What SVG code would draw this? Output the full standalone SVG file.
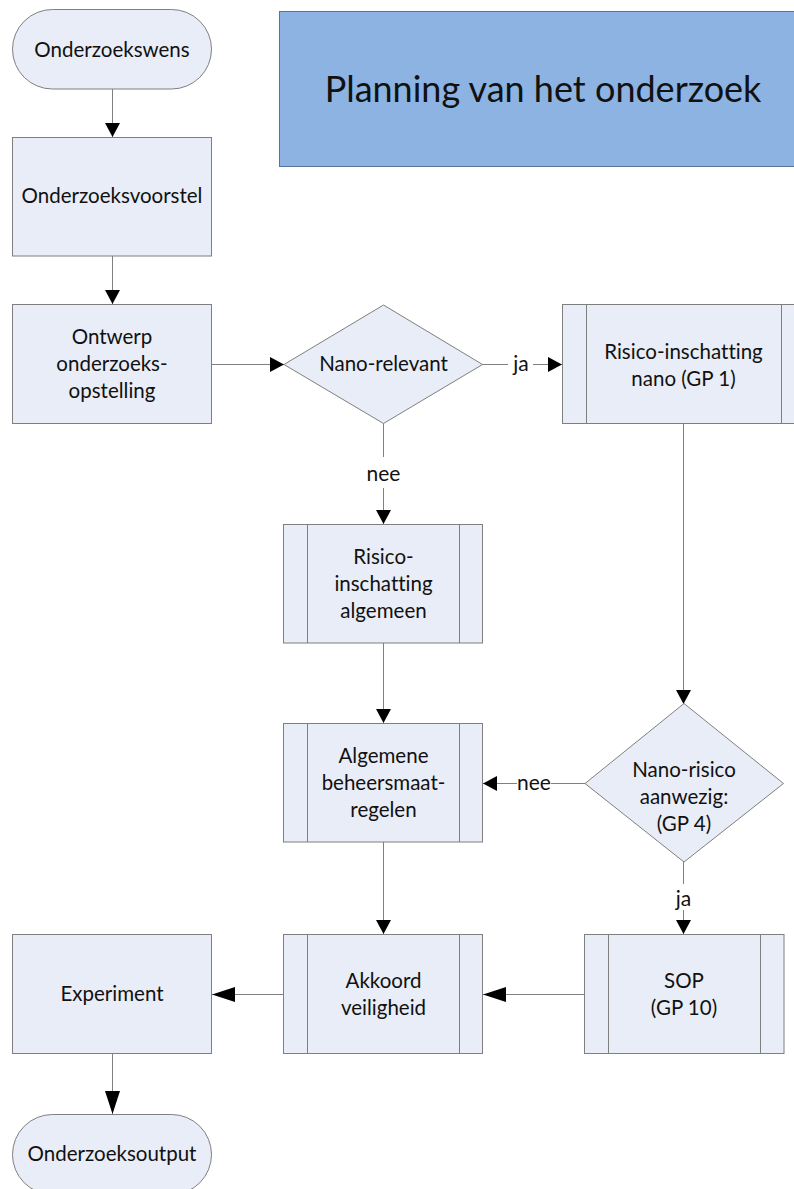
<svg xmlns="http://www.w3.org/2000/svg" width="794" height="1189" viewBox="0 0 794 1189">
  <style>
    .shape { fill: #E9EDF7; stroke: #7F7F7F; stroke-width: 1; }
    .title { fill: #8DB3E2; stroke: #56739C; stroke-width: 1; }
    .bar { stroke: #7F7F7F; stroke-width: 1; fill: none; }
    .conn { stroke: #808080; stroke-width: 1; fill: none; }
    text { font-family: Lato, "Liberation Sans", sans-serif; font-size: 20.5px; fill: #111; text-anchor: middle; font-variant-ligatures: none; }
    .big { font-size: 36px; }
    .lbl { font-size: 21px; }
  </style>
  <defs>
    <marker id="arrow" markerUnits="userSpaceOnUse" viewBox="0 0 14 15" refX="14" refY="7.5" markerWidth="14" markerHeight="15" orient="auto">
      <path d="M0,0 L14,7.5 L0,15 Z" fill="#000"/>
    </marker>
    <marker id="arrowLong" markerUnits="userSpaceOnUse" viewBox="0 0 23 15" refX="23" refY="7.5" markerWidth="23" markerHeight="15" orient="auto">
      <path d="M0,0 L23,7.5 L0,15 Z" fill="#000"/>
    </marker>
  </defs>

  <g id="connectors">
    <line class="conn" x1="112.5" y1="89" x2="112.5" y2="137" marker-end="url(#arrow)"/>
    <line class="conn" x1="112.5" y1="256" x2="112.5" y2="304" marker-end="url(#arrow)"/>
    <line class="conn" x1="211" y1="364.5" x2="284" y2="364.5" marker-end="url(#arrow)"/>
    <line class="conn" x1="482" y1="364.5" x2="508" y2="364.5"/>
    <line class="conn" x1="533" y1="364.5" x2="562" y2="364.5" marker-end="url(#arrow)"/>
    <line class="conn" x1="383.5" y1="423" x2="383.5" y2="457"/>
    <line class="conn" x1="383.5" y1="488" x2="383.5" y2="524" marker-end="url(#arrow)"/>
    <line class="conn" x1="683.5" y1="424" x2="683.5" y2="704" marker-end="url(#arrow)"/>
    <line class="conn" x1="383.5" y1="643" x2="383.5" y2="723" marker-end="url(#arrow)"/>
    <line class="conn" x1="585" y1="783.5" x2="551" y2="783.5"/>
    <line class="conn" x1="517" y1="783.5" x2="483" y2="783.5" marker-end="url(#arrow)"/>
    <line class="conn" x1="683.5" y1="862" x2="683.5" y2="884"/>
    <line class="conn" x1="683.5" y1="910" x2="683.5" y2="934" marker-end="url(#arrow)"/>
    <line class="conn" x1="383.5" y1="842" x2="383.5" y2="934" marker-end="url(#arrow)"/>
    <line class="conn" x1="584" y1="994.5" x2="483" y2="994.5" marker-end="url(#arrowLong)"/>
    <line class="conn" x1="283" y1="994.5" x2="212" y2="994.5" marker-end="url(#arrowLong)"/>
    <line class="conn" x1="112.5" y1="1054" x2="112.5" y2="1114" marker-end="url(#arrowLong)"/>
    <text class="lbl" x="521" y="371">ja</text>
    <text class="lbl" x="383.5" y="481">nee</text>
    <text class="lbl" x="534" y="790">nee</text>
    <text class="lbl" x="683.5" y="906">ja</text>
  </g>

  <g id="title">
    <rect class="title" x="279.5" y="11.5" width="530" height="155"/>
    <text class="big" x="543" y="102">Planning van het onderzoek</text>
  </g>

  <g id="onderzoekswens">
    <rect class="shape" x="12.5" y="9.5" width="199" height="79.5" rx="40" ry="40"/>
    <text x="112" y="57">Onderzoekswens</text>
  </g>

  <g id="onderzoeksvoorstel">
    <rect class="shape" x="12.5" y="137.5" width="199" height="118.5"/>
    <text x="112" y="203">Onderzoeksvoorstel</text>
  </g>

  <g id="ontwerp">
    <rect class="shape" x="12.5" y="304.5" width="199" height="119"/>
    <text x="112" y="344">Ontwerp</text>
    <text x="112" y="371">onderzoeks-</text>
    <text x="112" y="398">opstelling</text>
  </g>

  <g id="nano-relevant">
    <polygon class="shape" points="383.5,305 482.5,364.5 383.5,423.5 284,364.5"/>
    <text x="383.5" y="371">Nano-relevant</text>
  </g>

  <g id="risico-nano">
    <rect class="shape" x="562.5" y="304.5" width="243" height="119"/>
    <line class="bar" x1="586.5" y1="304.5" x2="586.5" y2="423.5"/>
    <line class="bar" x1="781.5" y1="304.5" x2="781.5" y2="423.5"/>
    <text x="683.5" y="359">Risico-inschatting</text>
    <text x="683.5" y="386">nano (GP 1)</text>
  </g>

  <g id="risico-algemeen">
    <rect class="shape" x="283.5" y="524.5" width="199" height="118.5"/>
    <line class="bar" x1="307.5" y1="524.5" x2="307.5" y2="643"/>
    <line class="bar" x1="459.5" y1="524.5" x2="459.5" y2="643"/>
    <text x="383.5" y="564">Risico-</text>
    <text x="383.5" y="591">inschatting</text>
    <text x="383.5" y="618">algemeen</text>
  </g>

  <g id="algemene-beheersmaatregelen">
    <rect class="shape" x="283.5" y="723.5" width="199" height="118.5"/>
    <line class="bar" x1="307.5" y1="723.5" x2="307.5" y2="842"/>
    <line class="bar" x1="459.5" y1="723.5" x2="459.5" y2="842"/>
    <text x="383.5" y="763">Algemene</text>
    <text x="383.5" y="790">beheersmaat-</text>
    <text x="383.5" y="817">regelen</text>
  </g>

  <g id="nano-risico">
    <polygon class="shape" points="684,703.5 783.5,783.5 684,862 585,783.5"/>
    <text x="684" y="777">Nano-risico</text>
    <text x="684" y="804">aanwezig:</text>
    <text x="684" y="831">(GP 4)</text>
  </g>

  <g id="sop">
    <rect class="shape" x="584.5" y="934.5" width="199.5" height="119"/>
    <line class="bar" x1="608.5" y1="934.5" x2="608.5" y2="1053.5"/>
    <line class="bar" x1="760.5" y1="934.5" x2="760.5" y2="1053.5"/>
    <text x="684" y="988">SOP</text>
    <text x="684" y="1015">(GP 10)</text>
  </g>

  <g id="akkoord-veiligheid">
    <rect class="shape" x="283.5" y="934.5" width="199" height="119"/>
    <line class="bar" x1="307.5" y1="934.5" x2="307.5" y2="1053.5"/>
    <line class="bar" x1="459.5" y1="934.5" x2="459.5" y2="1053.5"/>
    <text x="383.5" y="988">Akkoord</text>
    <text x="383.5" y="1015">veiligheid</text>
  </g>

  <g id="experiment">
    <rect class="shape" x="12.5" y="934.5" width="199" height="119"/>
    <text x="112" y="1001">Experiment</text>
  </g>

  <g id="onderzoeksoutput">
    <rect class="shape" x="12.5" y="1114.5" width="199" height="80" rx="40" ry="40"/>
    <text x="112" y="1161">Onderzoeksoutput</text>
  </g>
</svg>
